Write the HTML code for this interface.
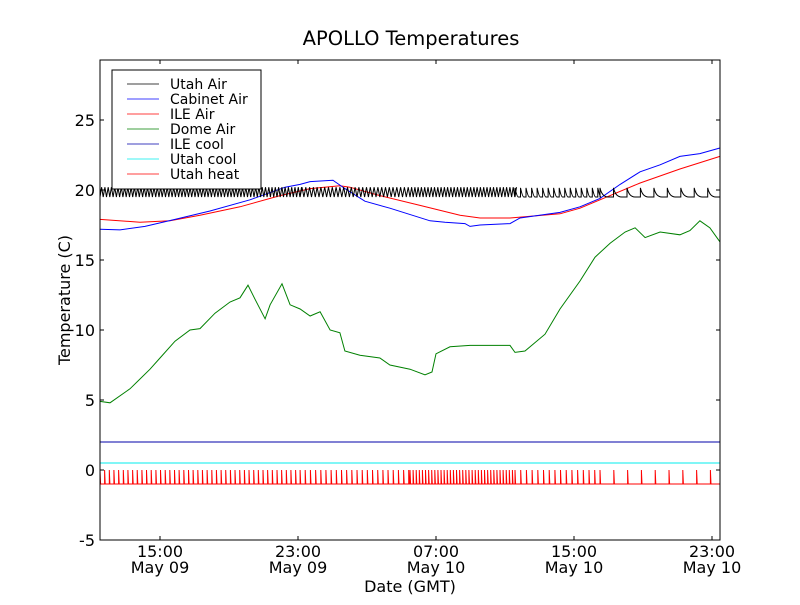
<!DOCTYPE html>
<html><head><meta charset="utf-8"><style>
html,body{margin:0;padding:0;background:#fff;}
svg text{font-family:"DejaVu Sans","Liberation Sans",sans-serif;}
</style></head><body>
<svg id="chart" width="800" height="600" xmlns="http://www.w3.org/2000/svg">
<rect width="800" height="600" fill="#fff"/>
<text x="411" y="45" font-size="19.5" text-anchor="middle">APOLLO Temperatures</text>
<text x="410" y="592" font-size="16" text-anchor="middle">Date (GMT)</text>
<text transform="translate(70,300) rotate(-90)" font-size="16" text-anchor="middle">Temperature (C)</text>
<g id="series"></g>
<g id="axes"></g>
<rect x="100" y="60" width="620" height="480" fill="none" stroke="#000" stroke-width="1"/>
<g>
<rect x="112" y="70" width="149" height="119" fill="#fff" stroke="#000"/>
<g id="legend"></g>
</g>
</svg>
<script>
// hours relative to 15:00 May 09
const xTickHours=[0,8,16,24,32];
const xTickTop=["15:00","23:00","07:00","15:00","23:00"];
const xTickBottom=["May 09","May 09","May 10","May 10","May 10"];
const yTicks=[-5,0,5,10,15,20,25];
const cabH=[-3.48,-2.32,-0.87,0.87,2.9,5.22,7.25,8.12,8.7,10.03,10.14,10.72,11.88,13.33,15.65,16.52,17.68,17.97,18.55,20.29,20.87,23.19,24.35,25.51,26.67,27.83,28.99,30.14,31.3,32.46];
const cabV=[17.2,17.15,17.4,17.9,18.5,19.3,20.2,20.4,20.6,20.7,20.6,20.1,19.2,18.7,17.8,17.7,17.6,17.4,17.5,17.6,18.0,18.4,18.8,19.4,20.4,21.3,21.8,22.4,22.6,23.0];
const ileH=[-3.48,-1.16,0.58,2.32,4.64,6.96,8.7,10.43,11.01,12.75,15.07,17.39,18.55,20.29,23.19,24.35,25.51,27.83,30.14,32.46];
const ileV=[17.9,17.7,17.8,18.2,18.8,19.6,20.1,20.3,20.2,19.6,18.9,18.2,18.0,18.0,18.3,18.7,19.3,20.5,21.5,22.4];
const domeH=[-3.48,-2.9,-1.74,-0.58,0,0.87,1.74,2.32,3.19,4.06,4.64,5.1,5.51,6.09,6.38,7.07,7.54,8.12,8.7,9.28,9.86,10.43,10.72,11.59,12.75,13.33,14.49,15.36,15.77,16.0,16.81,17.97,19.71,20.29,20.58,21.16,22.32,23.19,24.35,25.22,26.09,26.96,27.54,28.12,28.99,30.14,30.72,31.3,31.88,32.46];
const domeV=[4.9,4.8,5.8,7.2,8.0,9.2,10.0,10.1,11.2,12.0,12.3,13.2,12.2,10.8,11.8,13.3,11.8,11.5,11.0,11.3,10.0,9.8,8.5,8.2,8.0,7.5,7.2,6.8,7.0,8.3,8.8,8.9,8.9,8.9,8.4,8.5,9.7,11.5,13.5,15.2,16.2,17.0,17.3,16.6,17.0,16.8,17.1,17.8,17.3,16.3];
// cycling segments: start hour, end hour, period hours
const segStart=[-3.48,8.12,14.49,20.58,25.51];
const segEnd=[8.12,14.49,20.58,25.51,32.46];
const utahPeriod=[0.19,0.22,0.19,0.32,0.78];
const heatPeriod=[0.27,0.3,0.18,0.33,0.8];
const utahLow=19.5, utahHigh=20.2, iceCool=2.0, utahCool=0.5, heatLow=-1, heatHigh=0;

const X0=160, XS=17.25, Y0=470, YS=14;
const xs=h=>X0+h*XS, ys=v=>Y0-v*YS;
const NS="http://www.w3.org/2000/svg";
const ser=document.getElementById('series'), ax=document.getElementById('axes');
function path(d,color,name){const p=document.createElementNS(NS,'path');p.setAttribute('d',d);p.setAttribute('fill','none');p.setAttribute('stroke',color);p.setAttribute('stroke-width','1');


ser.appendChild(p);}
function line(H,V){return H.map((h,i)=>(i?'L':'M')+xs(h).toFixed(1)+','+ys(V[i]).toFixed(1)).join('');}
path('M100,'+ys(iceCool)+'L720,'+ys(iceCool),'#0000aa','ile-cool-line');
path('M100,'+ys(utahCool)+'L720,'+ys(utahCool),'#00eeee','utah-cool-line');
let d='M100,500L100,'+ys(heatLow);
for(let s=0;s<segStart.length;s++){for(let h=segStart[s];h<segEnd[s];h+=heatPeriod[s]){const x=xs(h);d+='L'+x.toFixed(1)+','+ys(heatLow)+'L'+x.toFixed(1)+','+ys(heatHigh)+'L'+(x+0.6).toFixed(1)+','+ys(heatLow);}}
d+='L720,'+ys(heatLow);
path(d,'#ff0000','utah-heat-line');
path(line(domeH,domeV),'#008000','dome-air-line');
path(line(ileH,ileV),'#ff0000','ile-air-line');
path(line(cabH,cabV),'#0000ff','cabinet-air-line');
d='';
for(let s=0;s<segStart.length;s++){for(let h=segStart[s];h<segEnd[s];h+=utahPeriod[s]){const x=xs(h);const p=utahPeriod[s];
if(s<3){d+=(d?'L':'M')+x.toFixed(1)+','+ys(utahLow)+'L'+xs(h+p/2).toFixed(1)+','+ys(utahHigh);}
else{d+=(d?'L':'M')+x.toFixed(1)+','+ys(utahLow)+'L'+x.toFixed(1)+','+ys(utahHigh-0.05)+'Q'+(x+2).toFixed(1)+','+ys(utahLow)+' '+xs(h+p*0.6).toFixed(1)+','+ys(utahLow);}}}
d+='L720,'+ys(utahLow);
path(d,'#000','utah-air-line');
yTicks.forEach(v=>{const y=ys(v);
const t=document.createElementNS(NS,'path');t.setAttribute('d','M100,'+y+'h4M720,'+y+'h-4');t.setAttribute('stroke','#000');ax.appendChild(t);
const tx=document.createElementNS(NS,'text');tx.setAttribute('x',95);tx.setAttribute('y',y+6);tx.setAttribute('font-size','16');tx.setAttribute('text-anchor','end');tx.textContent=v;


ax.appendChild(tx);});
xTickHours.forEach((h,i)=>{const x=xs(h);
const t=document.createElementNS(NS,'path');t.setAttribute('d','M'+x+',540v-4M'+x+',60v4');t.setAttribute('stroke','#000');ax.appendChild(t);
[[xTickTop[i],557],[xTickBottom[i],573]].forEach(([s,y])=>{const tx=document.createElementNS(NS,'text');tx.setAttribute('x',x);tx.setAttribute('y',y);tx.setAttribute('font-size','16');tx.setAttribute('text-anchor','middle');tx.textContent=s;


ax.appendChild(tx);});});
const legNames=["Utah Air","Cabinet Air","ILE Air","Dome Air","ILE cool","Utah cool","Utah heat"];
const legColors=["#000","#0000ff","#ff0000","#008000","#0000aa","#00eeee","#ff0000"];
const lg=document.getElementById('legend');
legNames.forEach((n,i)=>{const y=84+i*15;
const l=document.createElementNS(NS,'path');l.setAttribute('d','M127,'+y+'h32');l.setAttribute('stroke',legColors[i]);l.setAttribute('opacity','0.75');lg.appendChild(l);
const tx=document.createElementNS(NS,'text');tx.setAttribute('x',170);tx.setAttribute('y',y+5);tx.setAttribute('font-size','14');tx.textContent=n;


lg.appendChild(tx);});
</script>
</body></html>
